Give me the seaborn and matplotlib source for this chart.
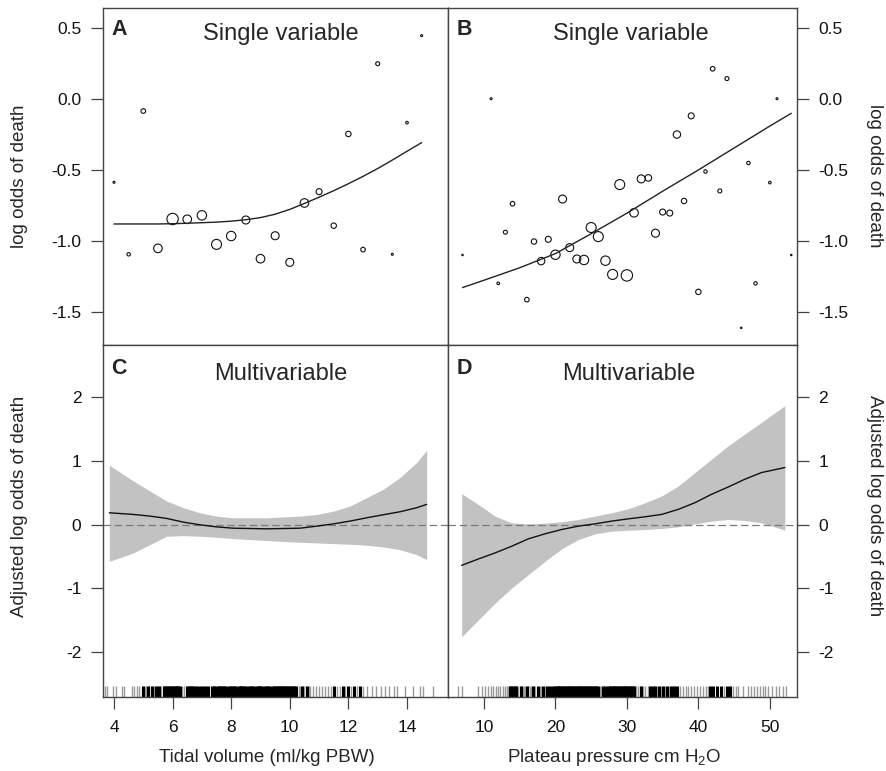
import numpy as np
import pandas as pd
import matplotlib
matplotlib.use("Agg")
import matplotlib.pyplot as plt
import seaborn as sns

# ---------------- data ----------------
# Panel A: binned tidal volume, single variable
tv_bins = [4.0, 4.5, 5.0, 5.5, 6.0, 6.5, 7.0, 7.5, 8.0, 8.5, 9.0,
           9.5, 10.0, 10.5, 11.0, 11.5, 12.0, 12.5, 13.0, 13.5, 14.0, 14.5]
tv_logodds = [-0.587, -1.095, -0.084, -1.053, -0.846, -0.848, -0.82, -1.025,
              -0.966, -0.853, -1.126, -0.964, -1.152, -0.733, -0.653, -0.893,
              -0.246, -1.062, 0.25, -1.095, -0.166, 0.448]
tv_n = [10, 29, 53, 185, 325, 185, 221, 250, 221, 160, 185,
        160, 160, 185, 90, 73, 73, 53, 40, 10, 17, 10]
tv_fit_x = [4.0, 4.5, 5.0, 5.5, 6.0, 6.5, 7.0, 7.5, 8.0, 8.5, 9.0, 9.5,
            10.0, 10.5, 11.0, 11.5, 12.0, 12.5, 13.0, 13.5, 14.0, 14.5]
tv_fit_y = [-0.881, -0.881, -0.881, -0.881, -0.879, -0.876, -0.872, -0.868,
            -0.861, -0.851, -0.836, -0.812, -0.778, -0.736, -0.692, -0.646,
            -0.597, -0.545, -0.49, -0.43, -0.368, -0.307]

# Panel B: binned plateau pressure, single variable
pp_bins = [7, 11, 12, 13, 14, 16, 17, 18, 19, 20, 21, 22, 23, 24, 25, 26, 27,
           28, 29, 30, 31, 32, 33, 34, 35, 36, 37, 38, 39, 40, 41, 42, 43, 44,
           46, 47, 48, 50, 51, 53]
pp_logodds = [-1.10, 0.003, -1.30, -0.939, -0.738, -1.415, -1.005, -1.143,
              -0.989, -1.098, -0.705, -1.048, -1.128, -1.135, -0.906, -0.97,
              -1.14, -1.237, -0.603, -1.244, -0.802, -0.563, -0.556, -0.946,
              -0.797, -0.804, -0.25, -0.719, -0.118, -1.36, -0.511, 0.214,
              -0.648, 0.145, -1.614, -0.451, -1.30, -0.589, 0.003, -1.10]
pp_n = [5, 10, 17, 40, 53, 53, 73, 137, 90, 221, 160, 160, 160, 221, 250,
        250, 221, 250, 250, 325, 185, 160, 109, 160, 90, 90, 137, 73, 90, 73,
        29, 53, 40, 40, 5, 29, 29, 17, 10, 5]
pp_fit_x = [7, 10, 15, 20, 25, 30, 35, 40, 45, 50, 53]
pp_fit_y = [-1.33, -1.278, -1.19, -1.09, -0.95, -0.805, -0.65, -0.50,
            -0.345, -0.19, -0.10]

# Panel C: multivariable, tidal volume
c_x = [3.84, 4.66, 5.23, 5.80, 6.37, 6.94, 7.50, 8.07, 9.21, 10.35, 10.92,
       11.49, 12.05, 12.62, 13.19, 13.76, 14.33, 14.67]
c_upper = [0.932, 0.684, 0.526, 0.368, 0.263, 0.184, 0.132, 0.105, 0.105,
           0.132, 0.158, 0.21, 0.289, 0.421, 0.553, 0.737, 0.974, 1.168]
c_lower = [-0.579, -0.447, -0.316, -0.184, -0.174, -0.184, -0.2, -0.221,
           -0.253, -0.279, -0.289, -0.3, -0.31, -0.326, -0.353, -0.395,
           -0.474, -0.553]
c_fit = [0.184, 0.158, 0.132, 0.095, 0.037, -0.005, -0.037, -0.058, -0.068,
         -0.058, -0.026, 0.01, 0.053, 0.105, 0.153, 0.2, 0.263, 0.316]

# Panel D: multivariable, plateau pressure
d_x = [6.88, 9.21, 11.54, 13.87, 16.2, 18.53, 20.86, 23.19, 25.52, 27.86,
       30.19, 32.52, 34.85, 37.18, 39.51, 41.84, 44.17, 46.5, 48.83, 52.1]
d_upper = [0.484, 0.316, 0.132, 0.026, 0.01, 0.021, 0.042, 0.079, 0.132,
           0.184, 0.247, 0.342, 0.447, 0.605, 0.816, 1.026, 1.237, 1.421,
           1.605, 1.868]
d_lower = [-1.763, -1.5, -1.237, -1.0, -0.789, -0.579, -0.384, -0.237,
           -0.147, -0.105, -0.089, -0.079, -0.063, -0.037, 0.01, 0.053,
           0.079, 0.063, 0.026, -0.089]
d_fit = [-0.642, -0.542, -0.447, -0.342, -0.226, -0.147, -0.079, -0.026,
         0.01, 0.053, 0.089, 0.121, 0.158, 0.237, 0.342, 0.474, 0.589,
         0.711, 0.816, 0.895]

# Rugs (observed patient values): frequent and rare values
tv_rug_common = [5.0, 5.15, 5.3, 5.45, 5.55,
                 5.70, 5.75, 5.80, 5.85, 5.90, 5.95, 6.00, 6.05, 6.10, 6.15,
                 6.20, 6.25, 6.50, 6.55, 6.60, 6.65, 6.70, 6.80, 6.90, 7.00,
                 7.10, 7.20, 7.35, 7.40, 7.45, 7.55, 7.60, 7.65, 7.70, 7.75,
                 7.80, 7.90, 7.95, 8.00, 8.05, 8.10, 8.15, 8.25, 8.30, 8.35,
                 8.40, 8.45, 8.50, 8.60, 8.65, 8.70, 8.75, 8.85, 8.90, 8.95,
                 9.00, 9.05, 9.15, 9.20, 9.25, 9.30, 9.40, 9.45, 9.50, 9.55,
                 9.60, 9.65, 9.70, 9.75, 9.80, 9.85, 9.90, 9.95, 10.00, 10.05,
                 10.10, 10.15, 10.20, 10.4, 10.6, 11.5, 11.8, 12.0, 12.2, 12.4]
tv_rug_rare = [3.69, 3.77, 3.98, 4.07, 4.26, 4.34, 4.6, 4.69, 4.8, 4.86, 4.95,
               5.05, 5.1, 5.2, 5.25, 5.35, 5.4, 5.5, 5.6, 6.32, 6.4, 6.75,
               6.85, 6.95, 7.05, 7.15, 7.25, 10.3, 10.35, 10.45, 10.5, 10.55,
               10.65, 10.7, 10.8, 10.9, 11.0, 11.1, 11.2, 11.3, 11.4, 11.6,
               11.7, 11.9, 12.1, 12.3, 12.5, 12.65, 12.8, 12.95, 13.1, 13.25,
               13.4, 13.55, 13.65, 13.93, 14.22, 14.44, 14.56, 14.9]
pp_rug_common = [13.6, 13.8, 14.0, 14.3, 14.5, 15.2, 16.0, 16.8, 17.5, 18.2,
                 18.8, 19.3, 19.6, 19.9, 20.1, 20.3, 20.5, 20.7, 20.9, 21.1,
                 21.3, 21.5, 21.7, 21.9, 22.1, 22.3, 22.5, 22.7, 22.9, 23.1,
                 23.3, 23.5, 23.7, 23.9, 24.1, 24.3, 24.5, 24.7, 24.9, 25.1,
                 25.3, 25.5, 25.7, 25.9, 26.6, 27.0, 27.4, 27.6, 27.8, 28.0,
                 28.2, 28.4, 28.6, 28.8, 29.0, 29.2, 29.4, 29.6, 29.8, 30.0,
                 30.2, 30.4, 30.6, 30.8, 31.0, 32.0, 33.2, 33.6, 34.0, 34.5,
                 35.0, 35.6, 36.2, 36.6, 37.0, 41.6, 42.0, 42.6, 43.2, 44.0,
                 44.4]
pp_rug_rare = [6.32, 6.88, 9.2, 9.77, 10.1, 10.6, 11.0, 11.3, 11.7, 12.0,
               12.3, 12.6, 12.9, 13.2, 13.4, 14.8, 15.0, 15.4, 15.6, 15.8,
               16.2, 16.4, 16.6, 17.0, 17.2, 17.8, 18.0, 18.5, 19.0, 26.2,
               26.4, 26.8, 27.2, 31.3, 31.6, 31.9, 32.3, 32.6, 32.9, 33.4,
               33.8, 34.2, 34.8, 35.3, 35.9, 36.4, 36.8, 37.4, 37.8, 38.2,
               38.6, 39.0, 39.4, 39.8, 40.2, 40.6, 41.0, 41.3, 43.6, 44.8,
               45.2, 45.6, 46.3, 47.0, 47.4, 47.8, 48.2, 48.6, 49.0, 49.3,
               49.8, 50.3, 50.8, 51.3, 51.8, 52.3]

top_yticks = [-1.5, -1.0, -0.5, 0.0, 0.5]
bot_yticks = [-2, -1, 0, 1, 2]
tv_xticks = [4, 6, 8, 10, 12, 14]
pp_xticks = [10, 20, 30, 40, 50]

# ---------------- style ----------------
sns.set_theme(style="white")
plt.rcParams['font.family'] = ['Liberation Sans', 'DejaVu Sans']
plt.rcParams['axes.unicode_minus'] = False
plt.rcParams['mathtext.default'] = 'regular'

W, H = 887, 771
fig = plt.figure(figsize=(W / 100, H / 100), dpi=100)


def px_axes(l, t, r, b):
    return fig.add_axes([l / W, 1 - b / H, (r - l) / W, (b - t) / H])


axA = px_axes(103, 8, 448, 345)
axB = px_axes(448, 8, 797, 345)
axC = px_axes(103, 345, 448, 697)
axD = px_axes(448, 345, 797, 697)

FRAME = '#444444'
for ax in (axA, axB, axC, axD):
    for sp in ax.spines.values():
        sp.set_color(FRAME)
        sp.set_linewidth(1.0)
    ax.tick_params(which='both', direction='out', length=8.5, width=0.9,
                   color=FRAME, labelsize=12.5, labelcolor='#111111')

# size mapping: marker area proportional to number of patients
nmin = min(min(tv_n), min(pp_n))
nmax = max(max(tv_n), max(pp_n))
k = 0.207

# ---- A ----
dfA = pd.DataFrame({'x': tv_bins, 'y': tv_logodds, 'n': tv_n})
sns.scatterplot(data=dfA, x='x', y='y', size='n', sizes=(k * nmin, k * nmax),
                size_norm=(nmin, nmax), facecolor='none', edgecolor='#111111',
                linewidth=0.8, legend=False, ax=axA)
sns.lineplot(x=tv_fit_x, y=tv_fit_y, color='#222222', linewidth=1.0, ax=axA)
axA.set_xlim(3.625, 15.4)
axA.set_ylim(-1.735, 0.643)
axA.set_yticks(top_yticks)
axA.set_yticklabels([f"{v:.1f}" for v in top_yticks])
axA.set_xticks([])
axA.tick_params(axis='y', left=True, right=False, pad=7)

# ---- B ----
dfB = pd.DataFrame({'x': pp_bins, 'y': pp_logodds, 'n': pp_n})
sns.scatterplot(data=dfB, x='x', y='y', size='n', sizes=(k * nmin, k * nmax),
                size_norm=(nmin, nmax), facecolor='none', edgecolor='#111111',
                linewidth=0.8, legend=False, ax=axB)
sns.lineplot(x=pp_fit_x, y=pp_fit_y, color='#222222', linewidth=1.0, ax=axB)
axB.set_xlim(4.97, 53.8)
axB.set_ylim(-1.735, 0.643)
axB.set_yticks(top_yticks)
axB.set_yticklabels([f"{v:.1f}" for v in top_yticks])
axB.yaxis.tick_right()
axB.set_xticks([])
axB.tick_params(axis='y', left=False, right=True, pad=7)

# ---- C ----
axC.fill_between(c_x, c_lower, c_upper, color='#c2c2c2', linewidth=0)
axC.axhline(0, color='#7a7a7a', linewidth=0.9, dashes=(6, 3))
sns.lineplot(x=c_x, y=c_fit, color='#111111', linewidth=1.0, ax=axC)
sns.rugplot(x=tv_rug_rare, height=0.03, color='#9a9a9a', linewidth=1.0,
            expand_margins=False, ax=axC)
sns.rugplot(x=tv_rug_common, height=0.03, color='black', linewidth=2.2,
            expand_margins=False, ax=axC)
axC.set_xlim(3.625, 15.4)
axC.set_ylim(-2.71, 2.82)
axC.set_yticks(bot_yticks)
axC.set_yticklabels([str(v) for v in bot_yticks])
axC.set_xticks(tv_xticks)
axC.set_xticklabels([str(v) for v in tv_xticks])
axC.tick_params(axis='y', left=True, right=False, pad=7)
axC.tick_params(axis='x', bottom=True, top=False, pad=8)

# ---- D ----
axD.fill_between(d_x, d_lower, d_upper, color='#c2c2c2', linewidth=0)
axD.axhline(0, color='#7a7a7a', linewidth=0.9, dashes=(6, 3))
sns.lineplot(x=d_x, y=d_fit, color='#111111', linewidth=1.0, ax=axD)
sns.rugplot(x=pp_rug_rare, height=0.03, color='#9a9a9a', linewidth=1.0,
            expand_margins=False, ax=axD)
sns.rugplot(x=pp_rug_common, height=0.03, color='black', linewidth=2.2,
            expand_margins=False, ax=axD)
axD.set_xlim(4.97, 53.8)
axD.set_ylim(-2.71, 2.82)
axD.set_yticks(bot_yticks)
axD.set_yticklabels([str(v) for v in bot_yticks])
axD.yaxis.tick_right()
axD.set_xticks(pp_xticks)
axD.set_xticklabels([str(v) for v in pp_xticks])
axD.tick_params(axis='y', left=False, right=True, pad=7)
axD.tick_params(axis='x', bottom=True, top=False, pad=8)

for ax in (axA, axB, axC, axD):
    ax.set_xlabel('')
    ax.set_ylabel('')

# titles and panel letters
axA.text(0.516, 0.905, 'Single variable', transform=axA.transAxes,
         ha='center', va='baseline', fontsize=17)
axB.text(0.523, 0.905, 'Single variable', transform=axB.transAxes,
         ha='center', va='baseline', fontsize=17)
axC.text(0.5145, 0.9006, 'Multivariable', transform=axC.transAxes,
         ha='center', va='baseline', fontsize=17)
axD.text(0.517, 0.9006, 'Multivariable', transform=axD.transAxes,
         ha='center', va='baseline', fontsize=17)
for ax, letter, yb in ((axA, 'A', 0.92), (axB, 'B', 0.92),
                       (axC, 'C', 0.9176), (axD, 'D', 0.9176)):
    ax.text(0.024, yb, letter, transform=ax.transAxes, ha='left',
            va='baseline', fontsize=15.5, fontweight='bold')

# axis labels
fig.text(20 / W, 1 - 176 / H, 'log odds of death', rotation=90,
         ha='center', va='center', fontsize=13.5)
fig.text(875 / W, 1 - 176 / H, 'log odds of death', rotation=270,
         ha='center', va='center', fontsize=13.5)
fig.text(20 / W, 1 - 506 / H, 'Adjusted log odds of death', rotation=90,
         ha='center', va='center', fontsize=13.5)
fig.text(875 / W, 1 - 506 / H, 'Adjusted log odds of death', rotation=270,
         ha='center', va='center', fontsize=13.5)
fig.text(267 / W, 1 - 757 / H, 'Tidal volume (ml/kg PBW)',
         ha='center', va='center', fontsize=13.5)
fig.text(614 / W, 1 - 757 / H, 'Plateau pressure cm H$_2$O',
         ha='center', va='center', fontsize=13.5)

fig.savefig('out.png', dpi=100, facecolor='white')
